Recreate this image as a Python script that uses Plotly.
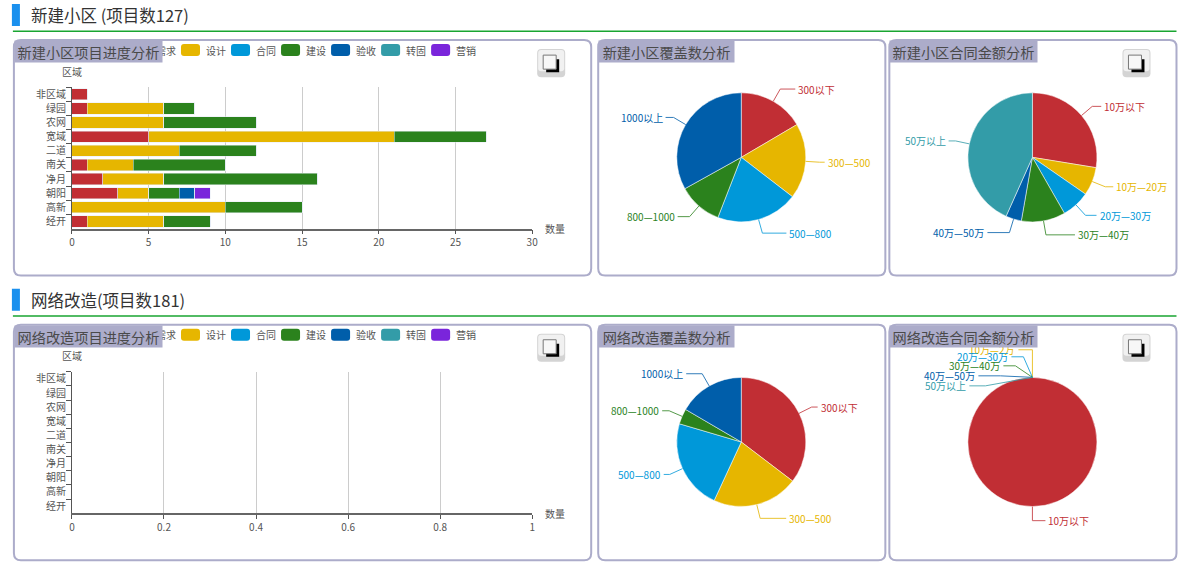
import math

import plotly.graph_objects as go

WIDTH = 1200
HEIGHT = 564
FONT = "Noto Sans CJK SC"

REGIONS = ["非区域", "绿园", "农网", "宽域", "二道", "南关", "净月", "朝阳", "高新", "经开"]
STAGES = ["需求", "设计", "合同", "建设", "验收", "转固", "营销"]
STAGE_COLORS = ["#c12e34", "#e6b600", "#0098d9", "#2b821d", "#005eaa", "#339ca8", "#7a25db"]

xq_new = [1, 1, 0, 5, 0, 1, 2, 3, 0, 1]
sj_new = [0, 5, 6, 16, 7, 3, 4, 2, 10, 5]
ht_new = [0, 0, 0, 0, 0, 0, 0, 0, 0, 0]
js_new = [0, 2, 6, 6, 5, 6, 10, 2, 5, 3]
ys_new = [0, 0, 0, 0, 0, 0, 0, 1, 0, 0]
zg_new = [0, 0, 0, 0, 0, 0, 0, 0, 0, 0]
yx_new = [0, 0, 0, 0, 0, 0, 0, 1, 0, 0]
NEW_STAGES = [xq_new, sj_new, ht_new, js_new, ys_new, zg_new, yx_new]
NET_STAGES = [[0] * 10 for _ in STAGES]

COVER_LABELS = ["300以下", "300—500", "500—800", "800—1000", "1000以上"]
new_cover = [21, 24, 26, 14, 42]
net_cover = [64, 39, 41, 7, 30]

AMOUNT_LABELS = ["10万以下", "10万—20万", "20万—30万", "30万—40万", "40万—50万", "50万以上"]
NET_AMOUNT_LABELS = ["10万以下", "10万—2万", "20万—30万", "30万—40万", "40万—50万", "50万以上"]
new_amount = [35, 9, 9, 14, 5, 55]
net_amount = [181, 0, 0, 0, 0, 0]

# how much longer or shorter each leader's horizontal run is than the default
NEW_COVER_RUNS = [3, -7, 12, 0, -4]
NEW_AMOUNT_RUNS = [-3, -4, -1, 17, 10, -5]
NET_COVER_RUNS = [-6, 14, -6, -5, 4]
NET_AMOUNT_RUNS = [1, 0, 0, 0, 0, 0]

# the zero slices of the last pie all start at the top, so their labels are spread by hand
NET_AMOUNT_LEADERS = {
    1: (1032, 349, 1018),
    2: (1023, 356, 1011),
    3: (1015, 365, 1003),
    4: (1000, 375, 978),
    5: (985, 385, 969),
}

PIE_R = 64.5


def px(x):
    return (x - 3.1) / 0.992 / WIDTH


def py(y):
    return 1 - (y - 1) / 0.996 / HEIGHT


def rounded_path(x0, y0, x1, y1, r):
    return (
        f"M{px(x0 + r)},{py(y0)} L{px(x1 - r)},{py(y0)} Q{px(x1)},{py(y0)} {px(x1)},{py(y0 + r)} "
        f"L{px(x1)},{py(y1 - r)} Q{px(x1)},{py(y1)} {px(x1 - r)},{py(y1)} "
        f"L{px(x0 + r)},{py(y1)} Q{px(x0)},{py(y1)} {px(x0)},{py(y1 - r)} "
        f"L{px(x0)},{py(y0 + r)} Q{px(x0)},{py(y0)} {px(x0 + r)},{py(y0)} Z"
    )


def add_box(fig, x0, y0, x1, y1, r=0, fill=None, line=None, width=1, layer="above"):
    fig.add_shape(
        type="path",
        path=rounded_path(x0, y0, x1, y1, r),
        xref="paper", yref="paper", layer=layer,
        fillcolor=fill or "rgba(0,0,0,0)",
        line=dict(color=line or "rgba(0,0,0,0)", width=width if line else 0),
    )


def add_text(fig, x, y, text, color="#555555", size=10, anchor="left"):
    fig.add_annotation(
        x=px(x), y=py(y), xref="paper", yref="paper",
        text=text, showarrow=False,
        xanchor=anchor, yanchor="middle",
        font=dict(family=FONT, size=size, color=color),
        borderpad=0,
    )


def add_panel(fig, x0, y0, x1, y1):
    add_box(fig, x0, y0, x1, y1, r=7, fill="#ffffff", line="#acacca", width=2, layer="below")


def add_title(fig, x0, y0, title, title_w):
    fig.add_annotation(
        x=px(x0), y=py(y0), xref="paper", yref="paper",
        text=title, showarrow=False,
        xanchor="left", yanchor="top",
        width=title_w, height=21, align="center", valign="middle",
        bgcolor="#acacca", borderpad=0,
        font=dict(family=FONT, size=14.2, color="#4a4a4a"),
    )


def add_header(fig, y, text):
    add_box(fig, 12, y - 11, 20, y + 11, fill="#1a90ee")
    add_text(fig, 30, y, text, color="#333333", size=16.5)
    add_box(fig, 13, y + 15.5, 1176, y + 17, fill="#19a531")


def add_button(fig, cx, cy):
    add_box(fig, cx - 14, cy - 14, cx + 14, cy + 14, r=4, fill="#d4d4d4")
    add_box(fig, cx - 13, cy - 13, cx + 13, cy + 8, r=3, fill="#f1f1f1")
    add_box(fig, cx - 5, cy - 4, cx + 8, cy + 9, fill="#000000")
    add_box(fig, cx - 8, cy - 8, cx + 5, cy + 6, fill="#f7f7f7", line="#777777", width=1)


def add_legend(fig, y):
    for i, (name, color) in enumerate(zip(STAGES, STAGE_COLORS)):
        left = 131 + 50 * i
        add_box(fig, left, y - 6, left + 19, y + 6, r=3, fill=color)
        add_text(fig, left + 24, y, name)


def add_bars(fig, stages, axis_suffix):
    for name, color, values in zip(STAGES, STAGE_COLORS, stages):
        fig.add_trace(go.Bar(
            y=REGIONS, x=values, name=name,
            orientation="h",
            marker=dict(color=color),
            xaxis=f"x{axis_suffix}", yaxis=f"y{axis_suffix}",
            showlegend=False,
        ))


def add_pie(fig, labels, values, cx, cy, runs, colors=STAGE_COLORS, leaders=None):
    fig.add_trace(go.Pie(
        labels=labels, values=values,
        sort=False, direction="clockwise", rotation=0,
        marker=dict(
            colors=colors,
            line=dict(color="#ffffff", width=[0.5 if v else 0 for v in values]),
        ),
        textinfo="none", showlegend=False,
        domain=dict(
            x=[px(cx - PIE_R), px(cx + PIE_R)],
            y=[py(cy + PIE_R), py(cy - PIE_R)],
        ),
    ))
    total = sum(values)
    run = 0
    for i, (label, value, color) in enumerate(zip(labels, values, colors)):
        mid = (run + value / 2) / total * 2 * math.pi
        run += value
        dx, dy = math.sin(mid), -math.cos(mid)
        x0, y0 = cx + PIE_R * dx, cy + PIE_R * dy
        if leaders and i in leaders:
            ex, ey, end = leaders[i]
            side = -1
        else:
            ex, ey = cx + (PIE_R + 14) * dx, cy + (PIE_R + 14) * dy
            side = 1 if dx > -0.001 else -1
            end = ex + (12 + runs[i]) * side
        fig.add_shape(
            type="path",
            path=f"M{px(x0)},{py(y0)} L{px(ex)},{py(ey)} L{px(end)},{py(ey)}",
            xref="paper", yref="paper",
            line=dict(color=color, width=1),
            opacity=0.8,
        )
        add_text(fig, end + 2 * side, ey, label, color=color,
                 anchor="left" if side > 0 else "right")


def axis_style(x_range, dtick, line_width):
    return dict(
        range=x_range, dtick=dtick,
        showgrid=True, gridcolor="#cccccc", gridwidth=1,
        showline=True, linecolor="#666666", linewidth=line_width,
        ticks="outside", ticklen=4, tickcolor="#555555",
        tickfont=dict(family=FONT, size=10, color="#555555"),
        zeroline=False,
    )


def region_axis():
    return dict(
        type="category", autorange="reversed",
        categoryorder="array", categoryarray=REGIONS,
        tickson="boundaries",
        showgrid=False, zeroline=False,
        showline=True, linecolor="#555555", linewidth=1,
        ticks="outside", ticklen=5, tickcolor="#555555",
        ticklabelstandoff=3,
        tickfont=dict(family=FONT, size=10, color="#555555"),
    )


fig = go.Figure()

for top, bottom in [(40, 275), (324, 559)]:
    add_panel(fig, 14, top, 591, bottom)
    add_panel(fig, 598, top, 885, bottom)
    add_panel(fig, 889, top, 1176, bottom)

add_header(fig, 15, "新建小区 (项目数127)")
add_header(fig, 299, "网络改造(项目数181)")

add_legend(fig, 50)
add_legend(fig, 334)

add_bars(fig, NEW_STAGES, "")
add_bars(fig, NET_STAGES, "2")

add_pie(fig, COVER_LABELS, new_cover, 741, 157, NEW_COVER_RUNS)
add_pie(fig, AMOUNT_LABELS, new_amount, 1032, 157, NEW_AMOUNT_RUNS)
add_pie(fig, COVER_LABELS, net_cover, 741, 441, NET_COVER_RUNS)
add_pie(fig, NET_AMOUNT_LABELS, net_amount, 1032, 441, NET_AMOUNT_RUNS, leaders=NET_AMOUNT_LEADERS)

for offset in (0, 284):
    add_text(fig, 72, 71 + offset, "区域", anchor="center")
    add_text(fig, 544, 228 + offset, "数量")
    add_button(fig, 551, 63 + offset)
    add_button(fig, 1136, 63 + offset)

add_title(fig, 14, 40, "新建小区项目进度分析", 147)
add_title(fig, 598, 40, "新建小区覆盖数分析", 135)
add_title(fig, 889, 40, "新建小区合同金额分析", 147)
add_title(fig, 14, 324, "网络改造项目进度分析", 147)
add_title(fig, 598, 324, "网络改造覆盖数分析", 135)
add_title(fig, 889, 324, "网络改造合同金额分析", 147)

fig.update_layout(
    width=WIDTH, height=HEIGHT,
    margin=dict(l=0, r=0, t=0, b=0),
    paper_bgcolor="#ffffff", plot_bgcolor="rgba(0,0,0,0)",
    barmode="stack", bargap=0.2,
    xaxis=dict(domain=[px(72), px(532)], anchor="y", **axis_style([0, 30], 5, 1.5)),
    yaxis=dict(domain=[py(228), py(87)], anchor="x", **region_axis()),
    xaxis2=dict(domain=[px(72), px(532)], anchor="y2", **axis_style([0, 1], 0.2, 2)),
    yaxis2=dict(domain=[py(512), py(371)], anchor="x2", **region_axis()),
)

fig.write_html(
    "out.html",
    config=dict(displayModeBar=False),
    post_script="document.body.style.margin='0';",
)
